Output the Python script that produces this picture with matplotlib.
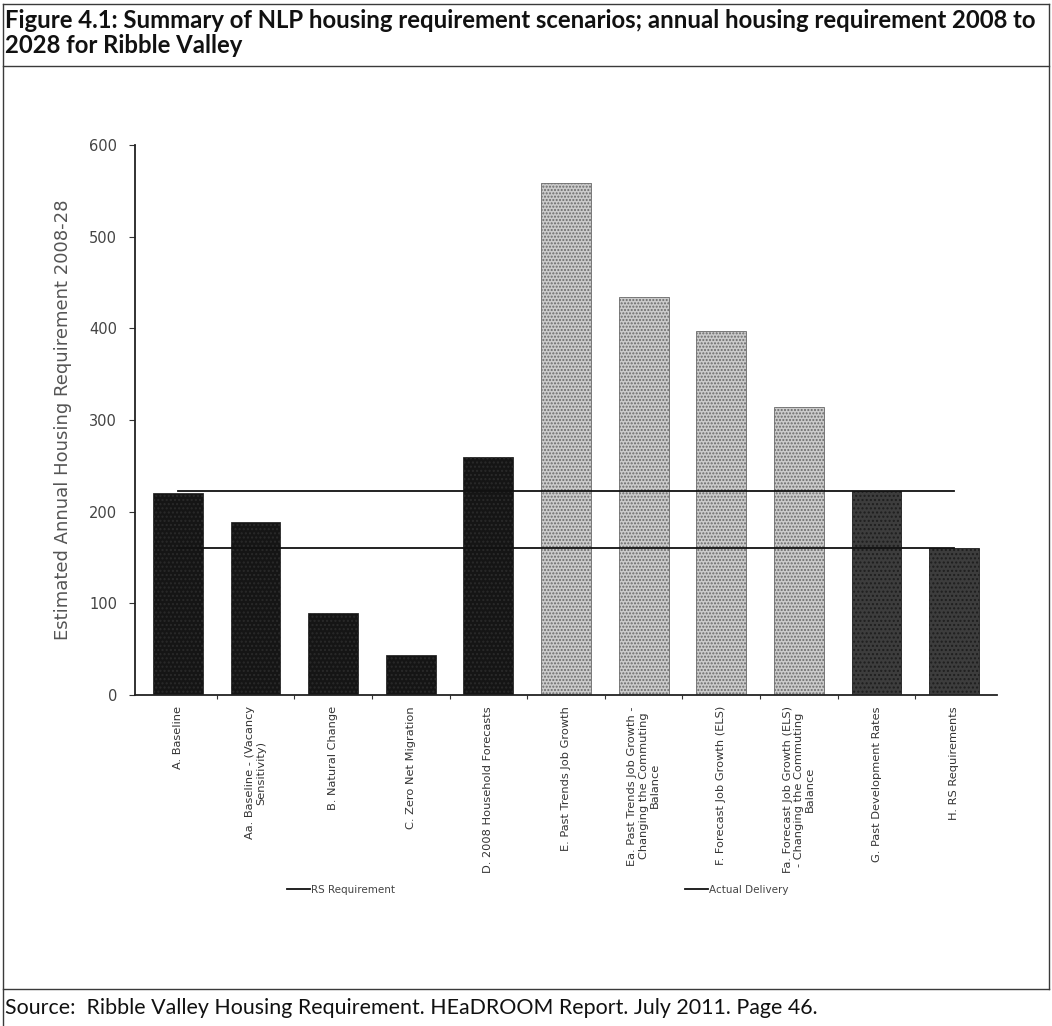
import matplotlib
matplotlib.use("Agg")
import matplotlib.pyplot as plt
from matplotlib.lines import Line2D
import numpy as np

# Scenario data
categories = [
    "A. Baseline",
    "Aa. Baseline - (Vacancy\nSensitivity)",
    "B. Natural Change",
    "C. Zero Net Migration",
    "D. 2008 Household Forecasts",
    "E. Past Trends Job Growth",
    "Ea. Past Trends Job Growth -\nChanging the Commuting\nBalance",
    "F. Forecast Job Growth (ELS)",
    "Fa. Forecast Job Growth (ELS)\n- Changing the Commuting\nBalance",
    "G. Past Development Rates",
    "H. RS Requirements",
]
requirement = [220, 189, 90, 44, 260, 558, 434, 397, 314, 223, 160]
rs_requirement = [160] * len(categories)
actual_delivery = [223] * len(categories)
y_ticks = [0, 100, 200, 300, 400, 500, 600]

# Bar groups: demographic, employment-led, policy/delivery
bar_face = ["#151515"] * 5 + ["#cbcbcb"] * 4 + ["#3d3d3d"] * 2
bar_hatch = ["...."] * 5 + ["....."] * 4 + ["...."] * 2
bar_edge = ["#2a2a2a"] * 5 + ["#6a6a6a"] * 4 + ["#1e1e1e"] * 2

W, H = 1052, 1026
fig = plt.figure(figsize=(W / 100, H / 100), dpi=100)
fig.patch.set_facecolor("white")

def fx(px):
    return px / W

def fy(py):
    return 1 - py / H

# Document table frame around the figure
frame_kw = dict(color="#3a3a3a", lw=1.0, transform=fig.transFigure)
for y in (4, 66, 989):
    fig.add_artist(Line2D([fx(3), fx(1049)], [fy(y), fy(y)], **frame_kw))
fig.add_artist(Line2D([fx(3), fx(3)], [fy(4), fy(1026)], **frame_kw))
fig.add_artist(Line2D([fx(1049), fx(1049)], [fy(4), fy(989)], **frame_kw))

title_kw = dict(family="Lato", weight="bold", fontsize=17.2, va="center", ha="left", color="#111")
fig.text(fx(5), fy(20), "Figure 4.1: Summary of NLP housing requirement scenarios; annual housing requirement 2008 to",
         **title_kw)
fig.text(fx(5), fy(46), "2028 for Ribble Valley", **title_kw)
fig.text(fx(5), fy(1008), "Source:  Ribble Valley Housing Requirement. HEaDROOM Report. July 2011. Page 46.",
         family="Lato", fontsize=15.4, va="center", ha="left", color="#111")

ax = fig.add_axes([fx(135), fy(695), fx(997) - fx(135), fy(145) - fy(695)])
x = np.arange(len(categories))
for xi, val, fc, hc, ec in zip(x, requirement, bar_face, bar_hatch, bar_edge):
    ax.bar(xi, val, width=0.64, color=fc, hatch=hc, edgecolor=ec, linewidth=0.6, zorder=2)

l_rs, = ax.plot(x, rs_requirement, color="#111111", lw=1.3, zorder=3, label="RS Requirement")
l_ad, = ax.plot(x, actual_delivery, color="#111111", lw=1.3, zorder=3, label="Actual Delivery")

ax.set_xlim(-0.55, len(categories) - 0.45)
ax.set_ylim(0, 600)
ax.set_yticks(y_ticks)
ax.set_yticklabels([str(t) for t in y_ticks], fontsize=10.5, color="#444", family="DejaVu Sans")
ax.tick_params(axis="y", length=4, width=0.8, pad=9, color="#333")
ax.set_xticks(np.arange(0.5, len(categories) - 1, 1.0))
ax.set_xticklabels([])
ax.tick_params(axis="x", length=3, width=0.8, color="#333")
for side in ("top", "right"):
    ax.spines[side].set_visible(False)
for side in ("left", "bottom"):
    ax.spines[side].set_linewidth(1.3)
    ax.spines[side].set_color("#222")

ax.set_ylabel("Estimated Annual Housing Requirement 2008-28", fontsize=13, color="#555",
              family="DejaVu Sans", labelpad=12)

for xi, lab in zip(x, categories):
    ax.text(xi, -12, lab, rotation=90, ha="center", va="top", multialignment="center",
            fontsize=8.2, color="#333", family="DejaVu Sans", linespacing=1.15)

leg_kw = dict(frameon=False, handlelength=2.2, handletextpad=0.1,
              labelcolor="#444", prop={"family": "DejaVu Sans", "size": 7.5})
fig.legend(handles=[l_rs], loc="center left", bbox_to_anchor=(fx(278), fy(890)), **leg_kw)
fig.legend(handles=[l_ad], loc="center left", bbox_to_anchor=(fx(676), fy(890)), **leg_kw)

fig.savefig("out.png", dpi=100, facecolor="white")
